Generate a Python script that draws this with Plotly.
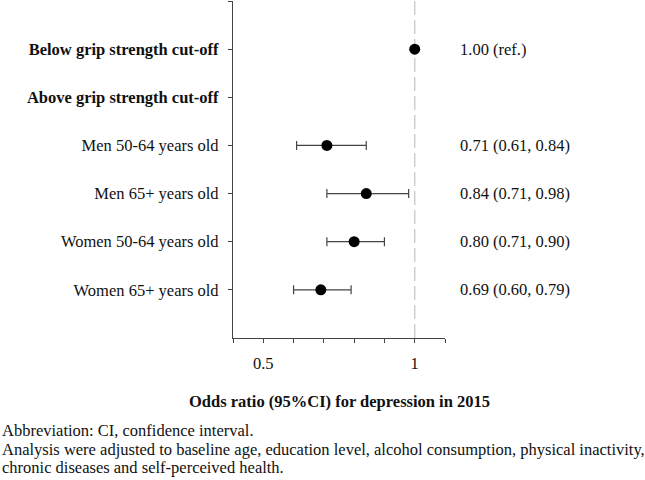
import plotly.graph_objects as go

# ---- data ----
categories = [
    "<b>Below grip strength cut-off</b>",
    "<b>Above grip strength cut-off</b>",
    "Men 50-64 years old",
    "Men 65+ years old",
    "Women 50-64 years old",
    "Women 65+ years old",
]
odds_ratio = [1.00, None, 0.71, 0.84, 0.80, 0.69]
ci_low = [None, None, 0.61, 0.71, 0.71, 0.60]
ci_high = [None, None, 0.84, 0.98, 0.90, 0.79]
x_tickvals = [0.4, 0.5, 0.6, 0.7, 0.8, 0.9, 1.0, 1.1]
x_ticktext = ["", "0.5", "", "", "", "", "1", ""]
x_title = "Odds ratio (95%CI) for depression in 2015"
footnote = [
    "Abbreviation: CI, confidence interval.",
    "Analysis were adjusted to baseline age, education level, alcohol consumption, physical inactivity,",
    "chronic diseases and self-perceived health.",
]

FONT = "Liberation Serif"
FS = 16.5
rows = list(range(1, len(categories) + 1))

# points with CI
pt_x, pt_y, err_p, err_m = [], [], [], []
for r, o, lo, hi in zip(rows, odds_ratio, ci_low, ci_high):
    if o is None:
        continue
    pt_x.append(o)
    pt_y.append(r)
    err_p.append((hi - o) if hi is not None else 0)
    err_m.append((o - lo) if lo is not None else 0)

fig = go.Figure()
fig.add_trace(go.Scatter(
    x=pt_x, y=pt_y, mode="markers",
    marker=dict(color="black", size=11),
    error_x=dict(type="data", symmetric=False, array=err_p, arrayminus=err_m,
                 color="#444", thickness=1.2, width=4.5),
    cliponaxis=False, showlegend=False, hoverinfo="skip",
))

# reference dashed line
fig.add_shape(type="line", xref="x", yref="y", x0=1, x1=1, y0=0, y1=7,
              line=dict(color="#cfcfcf", width=1.5, dash="14px,5px"), layer="below")

# right-side text
for r, o, lo, hi in zip(rows, odds_ratio, ci_low, ci_high):
    if o is None:
        continue
    if lo is None:
        txt = f"{o:.2f} (ref.)"
    else:
        txt = f"{o:.2f} ({lo:.2f}, {hi:.2f})"
    fig.add_annotation(x=(458 - 233) / 212, y=r, xref="paper", yref="y", text=txt,
                       showarrow=False, xanchor="left", yanchor="middle",
                       font=dict(family=FONT, size=FS, color="#111"))

# x-axis title
fig.add_annotation(x=0.5, y=(338 - 402) / 337, xref="paper", yref="paper",
                   text=f"<b>{x_title}</b>",
                   showarrow=False, xanchor="center", yanchor="middle",
                   font=dict(family=FONT, size=FS, color="#111"))

# footnotes
foot_y = [430, 449, 467]
for t, py in zip(footnote, foot_y):
    fig.add_annotation(x=-233 / 212, y=(338 - py) / 337, xref="paper", yref="paper",
                       text=t, showarrow=False, xanchor="left", yanchor="middle",
                       font=dict(family=FONT, size=FS, color="#111"))

fig.update_layout(
    width=645, height=480,
    margin=dict(l=233, r=200, t=1, b=142),
    paper_bgcolor="white", plot_bgcolor="white",
    font=dict(family=FONT, size=FS, color="#111"),
    xaxis=dict(range=[0.4, 1.1], tickvals=x_tickvals, ticktext=x_ticktext,
               showgrid=False, zeroline=False, showline=True, linecolor="#444", linewidth=1.2,
               ticks="outside", ticklen=4, tickcolor="#444", tickwidth=1.2,
               ticklabelstandoff=6, tickfont=dict(family=FONT, size=FS, color="#111")),
    yaxis=dict(range=[7, 0], tickvals=[0] + rows, ticktext=[""] + categories,
               showgrid=False, zeroline=False, showline=True, linecolor="#444", linewidth=1.2,
               ticks="outside", ticklen=4, tickcolor="#444", tickwidth=1.2,
               ticklabelstandoff=6, tickfont=dict(family=FONT, size=FS, color="#111")),
)

fig.write_html("out.html", config={"displayModeBar": False},
               post_script="document.body.style.margin='0';")
